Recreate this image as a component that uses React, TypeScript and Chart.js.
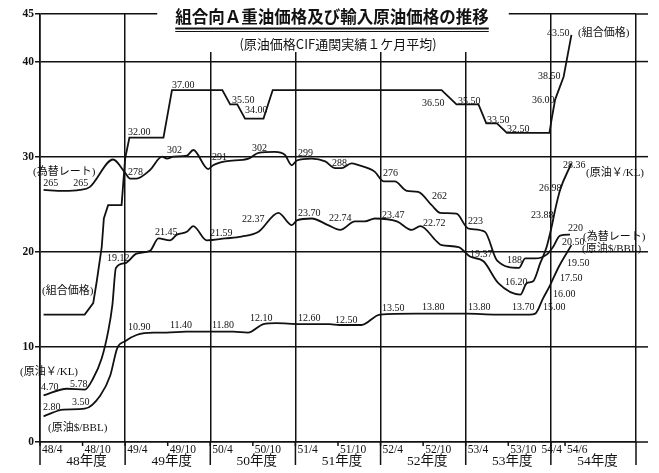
import React, { useEffect, useRef } from "react";
import { Chart, registerables } from "chart.js";

Chart.register(...registerables);

// ---- axis data ----
const yTicks = [0, 10, 20, 30, 40, 45];
const tickMonths = [0, 6, 12, 18, 24, 30, 36, 42, 48, 54, 60, 66, 72, 74];
const tickLabels = ["48/4", "48/10", "49/4", "49/10", "50/4", "50/10", "51/4", "51/10", "52/4", "52/10", "53/4", "53/10", "54/4", "54/6"];
const fiscalYears = ["48年度", "49年度", "50年度", "51年度", "52年度", "53年度", "54年度"];

const titleText = "組合向Ａ重油価格及び輸入原油価格の推移";
const subtitleText = "(原油価格CIF通関実績１ケ月平均)";

// ---- series (x = months since 48/4) ----
// 組合価格 (千円/KL)
const unionMonths = [0.5, 6.3, 7.5, 8.0, 8.7, 9.0, 9.6, 11.5, 12.0, 12.6, 17.4, 18.6, 25.7, 26.8, 27.8, 28.9, 31.5, 32.8, 56.6, 58.7, 61.8, 62.9, 64.4, 65.8, 71.8, 72.1, 72.6, 73.8, 74.9];
const unionPrice = [13.4, 13.4, 14.6, 16.9, 20.5, 23.5, 24.9, 24.9, 29.8, 32.0, 32.0, 37.0, 37.0, 35.5, 35.5, 34.0, 34.0, 37.0, 37.0, 35.5, 35.5, 33.5, 33.5, 32.5, 32.5, 33.9, 36.0, 38.4, 42.8];

// 為替レート (円/$) — plotted at 1/10 scale
const rateMonths = [0.5, 3.3, 5.6, 7.0, 10.3, 12.0, 12.7, 13.6, 15.5, 17.2, 17.9, 18.8, 20.7, 21.6, 23.7, 24.4, 26.1, 29.4, 30.8, 33.1, 34.5, 35.5, 36.2, 38.3, 40.2, 41.6, 42.5, 43.9, 44.9, 47.2, 48.4, 50.0, 51.7, 53.3, 55.2, 56.4, 58.7, 60.1, 60.6, 62.7, 64.4, 67.5, 68.4, 69.8, 71.4, 72.3, 73.3, 74.7];
const exchangeRate = [265, 264, 265, 268, 297, 283, 277, 277, 286, 300, 298, 300, 301, 307, 287, 291, 295, 298, 304, 305, 302, 291, 296, 298, 295, 288, 288, 293, 291, 284, 274, 274, 264, 263, 249, 241, 240, 226, 224, 221, 191, 183, 193, 193, 197, 205, 217, 218];

// 原油 ¥/KL (千円/KL)
const yenMonths = [0.5, 3.8, 6.3, 7.5, 8.7, 9.6, 10.2, 10.7, 12.0, 13.6, 15.5, 16.7, 18.3, 19.3, 20.7, 21.6, 23.5, 26.1, 28.4, 30.8, 33.6, 35.5, 36.2, 38.3, 40.6, 42.3, 44.4, 45.8, 47.2, 50.3, 52.4, 53.6, 55.9, 56.6, 59.0, 60.6, 62.5, 64.6, 67.7, 68.6, 69.5, 70.5, 71.4, 72.1, 72.6, 73.3, 74.9];
const crudeYenKL = [4.9, 5.6, 5.5, 6.7, 8.8, 11.6, 14.4, 18.3, 18.8, 19.8, 20.1, 21.4, 21.2, 21.8, 22.1, 22.7, 21.2, 21.4, 21.6, 22.1, 24.1, 22.8, 23.3, 23.5, 22.8, 22.3, 23.2, 23.2, 23.5, 23.2, 22.3, 22.7, 21.1, 20.7, 20.5, 19.5, 19.0, 16.7, 15.5, 16.7, 16.9, 18.8, 20.5, 22.6, 24.4, 26.5, 29.3];

// 原油 $/BBL
const dollarMonths = [0.5, 3.3, 6.3, 8.5, 9.9, 10.9, 12.0, 13.6, 16.0, 17.8, 20.6, 24.0, 27.2, 29.3, 31.5, 33.3, 36.6, 40.8, 42.2, 45.3, 47.9, 53.0, 60.1, 64.3, 69.0, 69.8, 70.9, 71.9, 73.1, 74.9];
const crudeDollarBBL = [2.7, 3.4, 3.5, 4.9, 7.0, 9.9, 10.6, 11.25, 11.5, 11.5, 11.6, 11.6, 11.6, 11.5, 12.4, 12.5, 12.4, 12.4, 12.3, 12.3, 13.4, 13.5, 13.5, 13.4, 13.4, 13.5, 15.1, 16.5, 18.4, 20.7];

// ---- annotations: [text, month, value] (left edge, vertical middle) ----
type Note = [string, number, number];
const unionNotes: Note[] = [
  ["(組合価格)", 0.28, 15.88], ["32.00", 12.4, 32.59], ["37.00", 18.6, 37.54], ["35.50", 27.06, 35.96],
  ["34.00", 28.89, 34.91], ["36.50", 53.84, 35.64], ["35.50", 58.91, 35.86], ["33.50", 63.0, 33.86],
  ["32.50", 65.82, 32.91], ["36.00", 69.34, 35.96], ["38.50", 70.19, 38.48], ["43.50", 71.46, 43.0],
  ["(組合価格)", 75.83, 43.0],
];
const rateNotes: Note[] = [
  ["(為替レート)", -0.99, 28.39], ["265", 0.46, 27.23], ["265", 4.7, 27.23], ["278", 12.4, 28.39],
  ["302", 17.9, 30.7], ["291", 24.24, 29.97], ["302", 29.88, 30.91], ["299", 36.36, 30.39],
  ["288", 41.15, 29.34], ["276", 48.34, 28.28], ["262", 55.25, 25.86], ["223", 60.32, 23.24],
  ["188", 65.82, 19.14], ["220", 74.42, 22.5], ["(為替レート)", 76.53, 21.55],
];
const yenNotes: Note[] = [
  ["(原油￥/KL)", -2.82, 7.36], ["4.70", 0.14, 5.78], ["5.78", 4.23, 6.1], ["19.12", 9.44, 19.35],
  ["21.45", 16.21, 22.08], ["21.59", 23.96, 21.97], ["22.37", 28.47, 23.45], ["23.70", 36.36, 24.08],
  ["22.74", 40.73, 23.55], ["23.47", 48.2, 23.87], ["22.72", 53.98, 23.03], ["19.37", 60.6, 19.77],
  ["16.20", 65.54, 16.82], ["23.88", 69.2, 23.87], ["26.98", 70.33, 26.71], ["28.36", 73.71, 29.13],
  ["(原油￥/KL)", 76.95, 28.28],
];
const dollarNotes: Note[] = [
  ["(原油$/BBL)", 1.13, 1.47], ["2.80", 0.42, 3.68], ["3.50", 4.51, 4.21], ["10.90", 12.4, 12.09],
  ["11.40", 18.32, 12.3], ["11.80", 24.24, 12.3], ["12.10", 29.6, 13.04], ["12.60", 36.36, 13.04],
  ["12.50", 41.58, 12.83], ["13.50", 48.2, 14.09], ["13.80", 53.84, 14.19], ["13.80", 60.32, 14.19],
  ["13.70", 66.52, 14.19], ["15.00", 70.89, 14.19], ["16.00", 72.3, 15.56], ["17.50", 73.29, 17.24],
  ["19.50", 74.28, 18.82], ["20.50", 73.57, 21.03], ["(原油$/BBL)", 76.39, 20.29],
];

const INK = "#111";
const SERIF = '"Liberation Serif", "Noto Sans CJK JP", serif';
const JP = '"Noto Sans CJK JP", sans-serif';

function pts(xs: number[], ys: number[], scale = 1) {
  return xs.map((x, i) => ({ x, y: ys[i] / scale }));
}

const decorPlugin = {
  id: "decor",
  afterDraw(chart: any) {
    const { ctx, chartArea, scales } = chart;
    const xs = scales.x;
    const ys = scales.y;
    const { left, right, top, bottom } = chartArea;
    ctx.save();

    // title with white backdrop
    ctx.font = `bold 16.5px ${JP}`;
    const tw = ctx.measureText(titleText).width;
    const cx = (left + right) / 2 - 6;
    const tl = cx - tw / 2;
    const tr = cx + tw / 2;
    ctx.fillStyle = "#fff";
    ctx.fillRect(tl - 18, 0, tw + 38, top + 38);
    ctx.fillStyle = INK;
    ctx.textAlign = "center";
    ctx.textBaseline = "middle";
    ctx.fillText(titleText, cx, top + 3);
    ctx.strokeStyle = INK;
    ctx.lineWidth = 2;
    ctx.beginPath();
    ctx.moveTo(tl, top + 14.5);
    ctx.lineTo(tr, top + 14.5);
    ctx.stroke();
    ctx.lineWidth = 1;
    ctx.beginPath();
    ctx.moveTo(tl, top + 17.5);
    ctx.lineTo(tr, top + 17.5);
    ctx.stroke();
    ctx.font = `13px ${JP}`;
    ctx.fillText(subtitleText, cx + 6, top + 30);

    // grid extensions to the right
    ctx.lineWidth = 1.5;
    ctx.strokeStyle = INK;
    yTicks.forEach((v) => {
      const py = ys.getPixelForValue(v);
      ctx.beginPath();
      ctx.moveTo(right, py);
      ctx.lineTo(right + 12, py);
      ctx.stroke();
    });

    // fiscal-year separators below axis, half-year ticks
    for (let k = 0; k <= fiscalYears.length; k++) {
      const px = xs.getPixelForValue(k * 12);
      ctx.beginPath();
      ctx.moveTo(px, bottom);
      ctx.lineTo(px, bottom + 23);
      ctx.stroke();
    }
    tickMonths.forEach((m) => {
      const px = xs.getPixelForValue(m);
      ctx.beginPath();
      ctx.moveTo(px, bottom);
      ctx.lineTo(px, bottom + 4);
      ctx.stroke();
    });

    // x tick labels
    ctx.font = `11.5px ${SERIF}`;
    ctx.textAlign = "left";
    ctx.textBaseline = "middle";
    ctx.fillStyle = INK;
    tickLabels.forEach((lab, i) => {
      const px = xs.getPixelForValue(tickMonths[i]);
      const w = ctx.measureText(lab).width;
      let x = px + 2;
      if (i + 1 < tickMonths.length) {
        const nx = xs.getPixelForValue(tickMonths[i + 1]);
        if (x + w > nx - 1) x = nx - 3 - w;
      }
      ctx.fillText(lab, x, bottom + 8);
    });

    // fiscal year labels
    ctx.font = `13.5px ${SERIF}`;
    ctx.textAlign = "center";
    fiscalYears.forEach((lab, k) => {
      const px = xs.getPixelForValue(k * 12 + 6) + 4;
      ctx.fillText(lab, px, bottom + 19);
    });

    // value annotations
    ctx.textAlign = "left";
    ctx.textBaseline = "middle";
    [unionNotes, rateNotes, yenNotes, dollarNotes].forEach((notes) => {
      notes.forEach(([t, m, v]) => {
        ctx.font = t.startsWith("(") ? `11px ${SERIF}` : `10px ${SERIF}`;
        ctx.fillText(t, xs.getPixelForValue(m), ys.getPixelForValue(v));
      });
    });

    ctx.restore();
  },
};

export default function App() {
  const ref = useRef<HTMLCanvasElement | null>(null);

  useEffect(() => {
    document.body.style.margin = "0";
    const canvas = ref.current;
    if (!canvas) return;
    const lineStyle = {
      borderColor: INK,
      borderWidth: 1.8,
      pointRadius: 0,
      fill: false,
    };
    const chart = new Chart(canvas, {
      type: "line",
      data: {
        datasets: [
          { ...lineStyle, label: "組合価格", data: pts(unionMonths, unionPrice), tension: 0 },
          { ...lineStyle, label: "為替レート", data: pts(rateMonths, exchangeRate, 10), cubicInterpolationMode: "monotone" },
          { ...lineStyle, label: "原油¥/KL", data: pts(yenMonths, crudeYenKL), cubicInterpolationMode: "monotone" },
          { ...lineStyle, label: "原油$/BBL", data: pts(dollarMonths, crudeDollarBBL), cubicInterpolationMode: "monotone" },
        ] as any,
      },
      options: {
        responsive: false,
        animation: false,
        devicePixelRatio: 1,
        layout: { padding: { top: 14, right: 23, left: 0, bottom: 0 } },
        plugins: { legend: { display: false }, tooltip: { enabled: false }, title: { display: false } },
        scales: {
          x: {
            type: "linear",
            min: 0,
            max: 84,
            afterFit: (s: any) => { s.height = 31; },
            afterBuildTicks: (s: any) => {
              const vals = Array.from(new Set([...tickMonths, ...fiscalYears.map((_, k) => k * 12), 84])).sort((a, b) => a - b);
              s.ticks = vals.map((value) => ({ value }));
            },
            ticks: { display: false },
            grid: {
              drawTicks: false,
              lineWidth: 1.5,
              color: (c: any) => (c.tick && c.tick.value % 12 === 0 ? INK : "rgba(0,0,0,0)"),
            },
            border: { display: true, color: INK, width: 1.5 },
          },
          y: {
            type: "linear",
            min: 0,
            max: 45,
            afterFit: (s: any) => { s.width = 40; },
            afterBuildTicks: (s: any) => { s.ticks = yTicks.map((value) => ({ value })); },
            ticks: {
              color: INK,
              padding: 1,
              font: { family: "Liberation Serif", size: 11.5, weight: "bold" },
              callback: (v: any) => String(v),
            },
            grid: { color: INK, lineWidth: 1.5, drawTicks: true, tickLength: 5, tickColor: INK },
            border: { display: true, color: INK, width: 1.6 },
          },
        },
      } as any,
      plugins: [decorPlugin],
    });
    return () => chart.destroy();
  }, []);

  return (
    <div style={{ width: 659, height: 473, background: "#fff" }}>
      <canvas ref={ref} width={659} height={473} style={{ display: "block" }} />
    </div>
  );
}
